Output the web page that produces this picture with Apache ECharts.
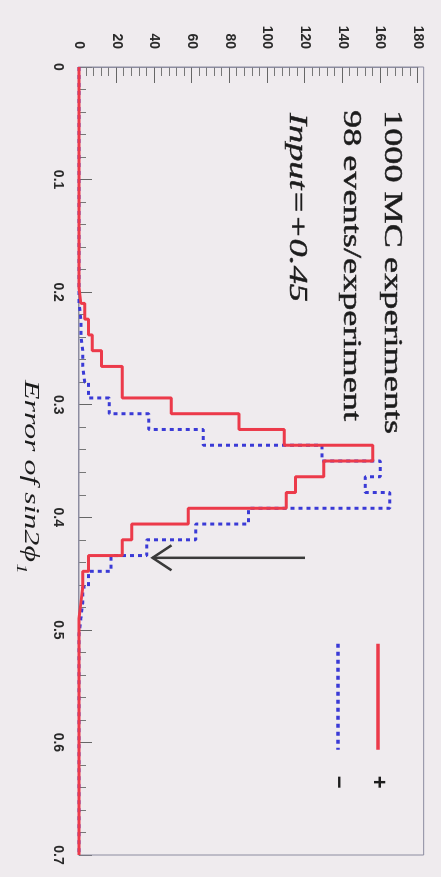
<!DOCTYPE html>
<html><head><meta charset="utf-8">
<script src="https://cdn.jsdelivr.net/npm/echarts@6/dist/echarts.min.js"></script>
<style>
html,body{margin:0;padding:0;width:441px;height:877px;overflow:hidden;background:#efebee;}
#wrap{position:absolute;left:0;top:0;width:877px;height:441px;transform-origin:0 0;transform:translate(441px,0) rotate(90deg);}
</style></head><body>
<div id="wrap"></div>
<script>
// Histogram definition: 50 bins of width 0.014 from 0 to 0.7
const binLow = 0;
const binWidth = 0.014;
// counts per bin, "+" sample (red solid)
const plusCounts = [0,0,0,0,0,0,0,0,0,0, 0,0,0,0,1,3,5,7,12,23, 23,49,85,109,156,130,115,110,58,28, 23,5,2,1,0,0,0,0,0,0, 0,0,0,0,0,0,0,0,0,0];
// counts per bin, "−" sample (blue dotted)
const minusCounts = [0,0,0,0,0,0,0,0,0,0, 0,0,0,0,0,1,1,2,2,3, 5,16,37,66,129,160,152,165,90,62, 36,17,5,2,1,0,0,0,0,0, 0,0,0,0,0,0,0,0,0,0];
const seriesNames = ['+', '\u2212'];
const errorTickLabels = ['0','0.1','0.2','0.3','0.4','0.5','0.6','0.7'];
const countTickLabels = ['0','20','40','60','80','100','120','140','160','180'];
const annotationLines = ['1000 MC experiments', '98 events/experiment', 'Input=+0.45'];
const axisTitle = 'Error of sin2\u03d5';
const axisTitleSub = '1';
// arrow marker: at error 0.436, pointing from count 120 to count 39
const arrowAt = 0.436, arrowFrom = 120, arrowTo = 39;
const frameCountMax = 183;

function steps(counts){
  const pts = counts.map((c,i)=>[+(binLow+i*binWidth).toFixed(4), c]);
  pts.push([+(binLow+counts.length*binWidth).toFixed(4), counts[counts.length-1]]);
  return pts;
}

const RED = '#ec3a4a', BLUE = '#3a3ad6', AX = '#8c8ca0', TXT = '#1c1c1c';
const chart = echarts.init(document.getElementById('wrap'), null, {renderer:'canvas', width:877, height:441});
const lblFont = {fontFamily:'Liberation Sans', fontWeight:'bold', fontSize:14, color:'#2a2a2a'};
chart.setOption({
  animation:false,
  backgroundColor:'#efebee',
  grid:{left:67, right:22, top:23, bottom:79, show:false},
  legend:{
    data:seriesNames, orient:'vertical', left:637, top:47, itemWidth:106, itemHeight:14, itemGap:18,
    selectedMode:false,
    itemStyle:{opacity:0, borderWidth:0},
    lineStyle:{width:3.5},
    textStyle:{fontFamily:'Liberation Sans', fontWeight:'bold', fontSize:22, color:TXT, padding:[0,0,0,21]}
  },
  xAxis:{
    type:'value', min:0, max:0.7, interval:0.1,
    axisLine:{show:true, lineStyle:{color:AX, width:1}},
    axisTick:{show:true, inside:true, length:13, lineStyle:{color:'#666', width:1}},
    minorTick:{show:true, splitNumber:5, length:7, lineStyle:{color:'#777', width:1}},
    splitLine:{show:false},
    axisLabel:Object.assign({margin:14, showMinLabel:true, showMaxLabel:true,
      formatter:(v)=>errorTickLabels[Math.round(v/0.1)]}, lblFont)
  },
  yAxis:{
    type:'value', min:0, max:180, interval:20,
    axisLine:{show:true, lineStyle:{color:AX, width:1}},
    axisTick:{show:true, inside:true, length:16, lineStyle:{color:'#666', width:1}},
    minorTick:{show:true, splitNumber:5, length:9, lineStyle:{color:'#777', width:1}},
    splitLine:{show:false},
    axisLabel:Object.assign({margin:18, formatter:(v)=>countTickLabels[Math.round(v/20)]}, lblFont)
  },
  series:[
    {name:seriesNames[1], type:'line', step:'end', data:steps(minusCounts), symbol:'none', clip:false, z:2,
     lineStyle:{color:BLUE, width:3, type:[4,4]}, itemStyle:{color:BLUE}},
    {name:seriesNames[0], type:'line', step:'end', data:steps(plusCounts), symbol:'none', clip:false, z:3,
     lineStyle:{color:RED, width:3}, itemStyle:{color:RED}}
  ]
});

// frame, annotations and arrow
const p00 = chart.convertToPixel({gridIndex:0},[0,0]);
const p1 = chart.convertToPixel({gridIndex:0},[0.7,frameCountMax]);
const tip = chart.convertToPixel({gridIndex:0},[arrowAt,arrowTo]);
const tail = chart.convertToPixel({gridIndex:0},[arrowAt,arrowFrom]);
const serif = 'Liberation Serif';
const textStroke = {stroke:TXT, lineWidth:0.4};
chart.setOption({graphic:[
  {type:'rect', shape:{x:p00[0], y:p1[1], width:p1[0]-p00[0], height:p00[1]-p1[1]}, style:{fill:'none', stroke:AX, lineWidth:1}, z:1, silent:true},
  {type:'text', x:110, y:49.5, scaleX:1.45, style:Object.assign({text:annotationLines[0], fontFamily:serif, fontSize:25, fill:TXT, align:'left', verticalAlign:'middle'}, textStroke)},
  {type:'text', x:110, y:90.5, scaleX:1.45, style:Object.assign({text:annotationLines[1], fontFamily:serif, fontSize:25, fill:TXT, align:'left', verticalAlign:'middle'}, textStroke)},
  {type:'text', x:113, y:144.5, scaleX:1.45, style:Object.assign({text:annotationLines[2], fontFamily:serif, fontStyle:'italic', fontSize:25, fill:TXT, align:'left', verticalAlign:'middle'}, textStroke)},
  {type:'text', x:380, y:407.5, scaleX:1.45, style:{
     text:'{m|'+axisTitle+'}{s|'+axisTitleSub+'}',
     rich:{m:{fontFamily:serif, fontStyle:'italic', fontSize:22, fill:TXT, lineHeight:28, verticalAlign:'bottom'},
           s:{fontFamily:serif, fontStyle:'italic', fontSize:14, fill:TXT, lineHeight:28, verticalAlign:'bottom', padding:[0,0,-6,1]}},
     fill:TXT, align:'left', verticalAlign:'middle'}},
  {type:'polyline', shape:{points:[tail, tip]}, style:{stroke:'#3a3a3a', lineWidth:2.5, fill:'none'}, z:10},
  {type:'polyline', shape:{points:[[tip[0]-12.5, tip[1]-19], tip, [tip[0]+12.5, tip[1]-19]]}, style:{stroke:'#3a3a3a', lineWidth:2.5, fill:'none', lineJoin:'miter'}, z:10}
]});
</script>
</body></html>
